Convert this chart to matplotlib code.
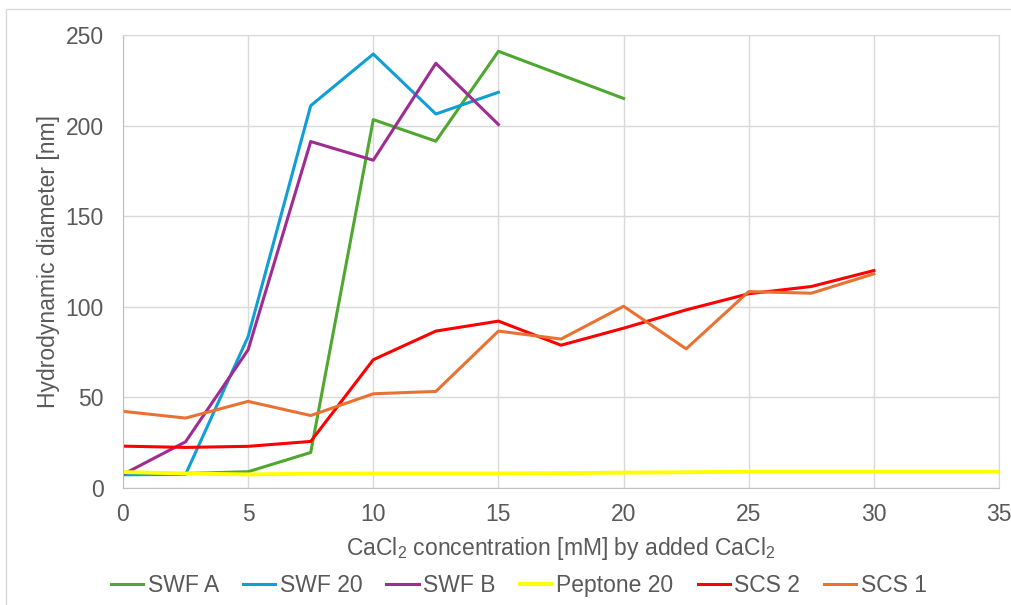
import matplotlib
matplotlib.use("Agg")
import matplotlib.pyplot as plt
from matplotlib.patches import Rectangle

plt.rcParams['font.family'] = ['Liberation Sans', 'DejaVu Sans']
plt.rcParams['mathtext.fontset'] = 'custom'
plt.rcParams['mathtext.rm'] = 'Liberation Sans'
plt.rcParams['mathtext.it'] = 'Liberation Sans'

# CaCl2 concentration steps [mM]
x_swf = [0, 2.5, 5, 7.5, 10, 12.5, 15]
x_swf_a = [0, 2.5, 5, 7.5, 10, 12.5, 15, 20]
x_peptone = [0, 2.5, 5, 7.5, 10, 12.5, 15, 17.5, 20, 22.5, 25, 27.5, 30, 32.5, 35]
x_scs = [0, 2.5, 5, 7.5, 10, 12.5, 15, 17.5, 20, 22.5, 25, 27.5, 30]

# Hydrodynamic diameter [nm]
swf_a = [8, 8, 9, 19.6, 203.3, 191.4, 241, 215]
swf_20 = [7.3, 7.5, 83.6, 211, 239.5, 206.4, 218.4]
swf_b = [7.5, 25.5, 76.3, 191.2, 180.9, 234.4, 200.6]
peptone_20 = [8.8, 8.0, 7.5, 7.9, 8.0, 8.0, 8.0, 8.2, 8.5, 8.7, 9.0, 9.0, 9.0, 9.0, 9.0]
scs_2 = [23.1, 22.4, 23, 25.7, 70.8, 86.6, 92.1, 78.8, 88.2, 98.3, 107.2, 111.2, 120]
scs_1 = [42.3, 38.6, 47.8, 40, 52, 53.3, 86.6, 82.2, 100.3, 76.8, 108.4, 107.5, 118.2]

fig = plt.figure(figsize=(10.12, 6.05), dpi=100)
ax = fig.add_axes([123 / 1012, 1 - 488 / 605, 876 / 1012, 453 / 605])

# chart area border
fig.patches.append(Rectangle((6 / 1012, -0.1), 1.2, 1 - 9 / 605 + 0.1, transform=fig.transFigure,
                             fill=False, edgecolor='#D9D9D9', linewidth=1))

lw = 2.2
ax.plot(x_swf_a, swf_a, color='#4EA72E', lw=lw, label='SWF A')
ax.plot(x_swf, swf_20, color='#0F9ED5', lw=lw, label='SWF 20')
ax.plot(x_swf, swf_b, color='#A02B93', lw=lw, label='SWF B')
ax.plot(x_peptone, peptone_20, color='#FFFF00', lw=lw + 0.6, label='Peptone 20')
ax.plot(x_scs, scs_2, color='#FF0000', lw=lw, label='SCS 2')
ax.plot(x_scs, scs_1, color='#E97132', lw=lw, label='SCS 1')

ax.set_xlim(0, 35)
ax.set_ylim(0, 250)
ax.set_xticks(range(0, 36, 5))
ax.set_yticks(range(0, 251, 50))
ax.grid(True, color='#D9D9D9', linewidth=1)
ax.set_axisbelow(True)
for side in ['top', 'right']:
    ax.spines[side].set_color('#D9D9D9')
for side in ['left', 'bottom']:
    ax.spines[side].set_color('#BFBFBF')
ax.tick_params(length=0, labelsize=16.5, labelcolor='#595959')
ax.tick_params(axis='x', pad=11)
ax.tick_params(axis='y', pad=14)

ax.set_xlabel('CaCl$_2$ concentration [mM] by added CaCl$_2$', fontsize=16.5, color='#595959', labelpad=6)
ax.set_ylabel('Hydrodynamic diameter [nm]', fontsize=16.5, color='#595959', labelpad=4)

ax.legend(loc='lower center', bbox_to_anchor=(0.5 - 42 / 876, -0.261), ncol=6, frameon=False,
          fontsize=16.5, labelcolor='#595959', handlelength=1.4, handletextpad=0.2,
          columnspacing=1.05, borderaxespad=0)

fig.savefig('out.png', dpi=100)
